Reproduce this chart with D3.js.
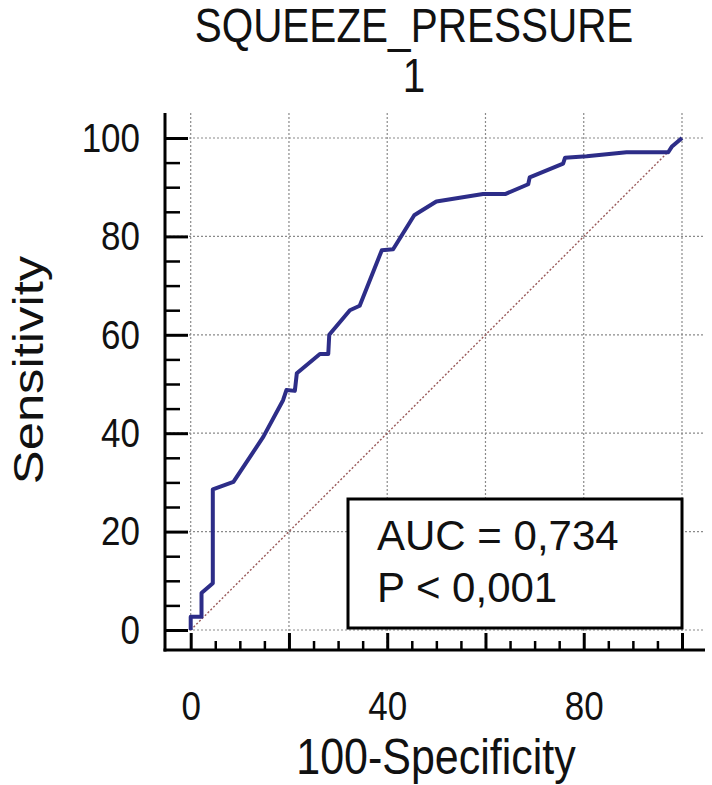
<!DOCTYPE html>
<html>
<head>
<meta charset="utf-8">
<script src="https://cdn.jsdelivr.net/npm/d3@7"></script>
<style>
  body { margin: 0; background: #fff; }
  svg { display: block; font-family: "Liberation Sans", Arial, sans-serif; }
</style>
</head>
<body>
<svg id="chart" width="712" height="785"></svg>
<script>
// ROC curve points (100-specificity, sensitivity)
const fpr = [0, 0, 2.2, 2.2, 4.5, 4.5, 8.7, 14.8, 18.8, 19.5, 21.2, 21.6, 26.3, 28.0, 28.2,
  32.4, 34.4, 38.9, 41.2, 45.5, 46.3, 50.0, 59.5, 64.0, 68.7, 69.0, 75.8, 76.2, 80.6,
  88.7, 97.2, 97.9, 100];
const tpr = [0, 2.7, 2.7, 7.5, 9.5, 28.6, 30.1, 39.3, 46.7, 48.8, 48.6, 52.2, 56.1, 56.1, 60.0,
  65.0, 65.9, 77.2, 77.4, 84.3, 84.8, 87.1, 88.6, 88.6, 90.6, 92.0, 94.8, 96.0, 96.3,
  97.1, 97.1, 98.2, 100];

const majorTicks = [0, 20, 40, 60, 80, 100];
const minorTicks = d3.range(0, 101, 5).filter((d) => d % 20 !== 0);
const xLabels = [0, 40, 80];
const titleLines = ["SQUEEZE_PRESSURE", "1"];
const statLines = ["AUC = 0,734", "P < 0,001"];

const svg = d3.select("#chart");

// plot frame (pixels)
const frame = { left: 165, right: 705, top: 113, bottom: 650 };
// the source image is a bit stretched vertically, so the text is too
const stretch = 1.18;

const x = d3.scaleLinear().domain([0, 100]).range([190.7, 682]);
const y = d3.scaleLinear().domain([0, 100]).range([630, 138]);

// grid
const grid = svg.append("g").attr("stroke", "#8a8a8a").attr("stroke-width", 1.2)
  .attr("stroke-dasharray", "2,2");
grid.selectAll(".vg").data(majorTicks).join("line")
  .attr("x1", (d) => x(d)).attr("x2", (d) => x(d))
  .attr("y1", frame.top).attr("y2", frame.bottom);
grid.selectAll(".hg").data(majorTicks).join("line")
  .attr("y1", (d) => y(d)).attr("y2", (d) => y(d))
  .attr("x1", frame.left).attr("x2", frame.right);

// diagonal reference line
svg.append("line")
  .attr("x1", x(0)).attr("y1", y(0))
  .attr("x2", x(100)).attr("y2", y(100))
  .attr("stroke", "#9a5a5a").attr("stroke-width", 1.4)
  .attr("stroke-dasharray", "2,2");

// ROC curve
const pts = fpr.map((d, i) => ({ fp: d, tp: tpr[i] }));
svg.append("path")
  .datum(pts)
  .attr("fill", "none")
  .attr("stroke", "#2d2d88")
  .attr("stroke-width", 4)
  .attr("stroke-linejoin", "round")
  .attr("d", d3.line().x((d) => x(d.fp)).y((d) => y(d.tp)));

// stats box
const box = svg.append("g");
box.append("rect")
  .attr("x", 348).attr("y", 499).attr("width", 334).attr("height", 129)
  .attr("fill", "#fff").attr("stroke", "#000").attr("stroke-width", 3);
box.selectAll("text").data(statLines).join("text")
  .attr("x", 377).attr("y", (d, i) => 550 + i * 52)
  .attr("font-size", 42).attr("fill", "#111")
  .text((d) => d);

// y axis ticks (pointing inward)
const yAxisG = svg.append("g").attr("transform", `translate(${frame.left},0)`);
yAxisG.call(d3.axisRight(y).tickValues(majorTicks).tickSize(23).tickFormat(""));
const yMinorG = svg.append("g").attr("transform", `translate(${frame.left},0)`);
yMinorG.call(d3.axisRight(y).tickValues(minorTicks).tickSize(15).tickFormat(""));
const yLabelG = svg.append("g").attr("transform", `translate(${frame.left},0)`);
yLabelG.call(d3.axisLeft(y).tickValues(majorTicks).tickSize(0).tickPadding(25));

// x axis ticks (pointing inward)
const xAxisG = svg.append("g").attr("transform", `translate(0,${frame.bottom})`);
xAxisG.call(d3.axisTop(x).tickValues(majorTicks).tickSize(17).tickFormat(""));
const xMinorG = svg.append("g").attr("transform", `translate(0,${frame.bottom})`);
xMinorG.call(d3.axisTop(x).tickValues(minorTicks).tickSize(9).tickFormat(""));
const xLabelG = svg.append("g").attr("transform", `translate(0,${frame.bottom})`);
xLabelG.call(d3.axisBottom(x).tickValues(xLabels).tickSize(0).tickPadding(34.5));

[yAxisG, yMinorG, yLabelG, xAxisG, xMinorG, xLabelG].forEach((g) => {
  g.select(".domain").remove();
  g.selectAll(".tick line").attr("stroke", "#000").attr("stroke-width", 3);
  g.selectAll(".tick text").attr("font-size", 35).attr("fill", "#111")
    .attr("font-family", "Liberation Sans, Arial, sans-serif")
    .attr("transform", `scale(1,${stretch})`);
});
yMinorG.selectAll(".tick line").attr("stroke-width", 2.5);
xMinorG.selectAll(".tick line").attr("stroke-width", 2.5);

// axis lines
svg.append("line").attr("x1", frame.left).attr("x2", frame.left)
  .attr("y1", frame.top).attr("y2", frame.bottom + 1.5)
  .attr("stroke", "#000").attr("stroke-width", 3);
svg.append("line").attr("x1", frame.left - 1.5).attr("x2", frame.right)
  .attr("y1", frame.bottom).attr("y2", frame.bottom)
  .attr("stroke", "#000").attr("stroke-width", 3);

// title
svg.selectAll(".title").data(titleLines).join("text")
  .attr("class", "title")
  .attr("transform", (d, i) => `translate(414,${42 + i * 50}) scale(1,${stretch})`)
  .attr("text-anchor", "middle").attr("font-size", 40.5).attr("fill", "#111")
  .text((d) => d);

// axis titles
svg.append("text")
  .attr("transform", `translate(436,774) scale(1,${stretch})`)
  .attr("text-anchor", "middle").attr("font-size", 43).attr("fill", "#111")
  .text("100-Specificity");
svg.append("text")
  .attr("transform", `translate(43,370) scale(1,${stretch}) rotate(-90)`)
  .attr("text-anchor", "middle").attr("font-size", 43).attr("fill", "#111")
  .text("Sensitivity");
</script>
</body>
</html>
